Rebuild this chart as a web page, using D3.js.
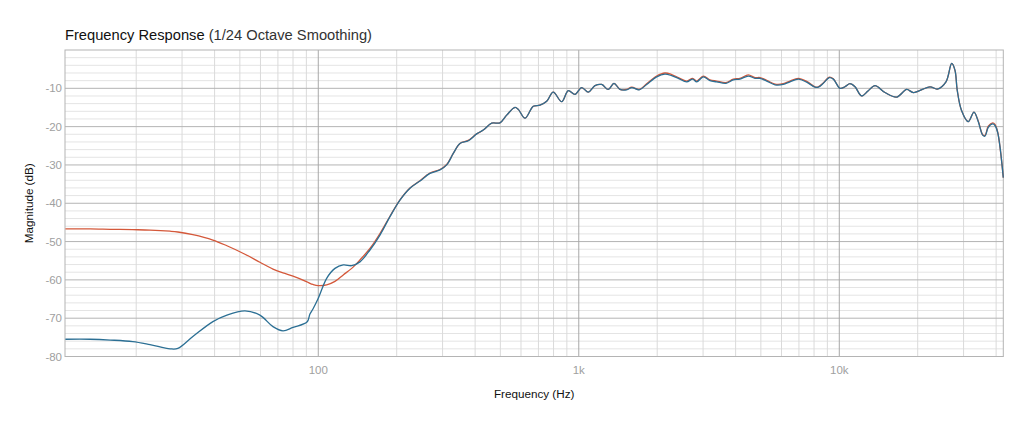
<!DOCTYPE html>
<html>
<head>
<meta charset="utf-8">
<script src="https://cdn.jsdelivr.net/npm/d3@7"></script>
<style>
  body { margin: 0; background: #fff; }
  svg { font-family: "Liberation Sans", Arial, Helvetica, sans-serif; }
</style>
</head>
<body>
<script>
// frequencies (Hz)
const freqs = [10.7, 13.3, 15.9, 19.4, 22.6, 27.0, 28.9, 33.0, 39.4, 44.6, 52.3, 59.7, 67.0, 73.2, 80.0,
  90.5, 92.9, 95.4, 100, 107.7, 115.9, 124.7, 134.4, 144.5, 157.9, 172.5, 188.5, 205.9, 224.9, 245.7,
  268.4, 293.3, 311.2, 329.8, 349.9, 376.6, 405.5, 429.9, 463.1, 498.3, 528.8, 569.0, 586, 621.6,
  668.9, 709.6, 753.1, 798.1, 860, 911.5, 967, 1026, 1088, 1154, 1224, 1298, 1365, 1440, 1527, 1597,
  1707, 1822, 1991, 2142, 2273, 2410, 2596, 2736, 2836, 3006, 3189, 3383, 3673, 3919, 4157, 4474,
  4747, 4961, 5264, 5666, 6096, 6467, 6961, 7498, 8067, 8306, 8681, 9153, 9484, 10063, 10517, 10993,
  11490, 12190, 12890, 13710, 14980, 16610, 18150, 19240, 22300, 23780, 25680, 27010, 27810, 28350,
  29440, 31280, 32890, 34170, 35520, 36250, 37330, 38810, 39600, 40550, 42620];

// magnitude (dB), blue trace
const seriesBlue = [-75.5, -75.5, -75.7, -76.1, -76.9, -78.0, -77.9, -74.8, -70.9, -69.2, -68.1, -69.2, -72.2, -73.3, -72.4,
  -71.0, -68.9, -67.6, -64.8, -59.6, -57.0, -56.1, -56.3, -55.3, -52.2, -48.3, -43.5, -39.2, -36.1, -34.2,
  -32.2, -31.3, -30.0, -27.0, -24.4, -23.7, -21.9, -20.9, -19.1, -19.0, -17.0, -15.0, -15.5, -17.8,
  -14.7, -14.4, -13.4, -11.0, -13.5, -10.6, -11.6, -9.8, -11.0, -9.3, -9.0, -10.3, -8.7, -10.3, -10.4, -9.8,
  -10.4, -9.0, -7.0, -6.3, -6.7, -7.4, -8.3, -7.6, -8.3, -7.0, -8.0, -8.3, -8.7, -7.8, -7.6, -6.8,
  -7.4, -7.4, -8.1, -9.1, -9.0, -8.3, -7.6, -8.4, -9.7, -9.7, -8.7, -7.2, -7.6, -10.0, -9.6, -8.8,
  -9.6, -12.0, -10.7, -9.3, -11.1, -12.3, -10.3, -11.1, -9.6, -10.2, -8.3, -3.5, -5.3, -10.4,
  -15.7, -18.7, -16.2, -18.7, -22.2, -22.5, -20.2, -19.3, -19.7, -21.5, -33.3];

// magnitude (dB), orange trace
const seriesOrange = [-46.7, -46.7, -46.8, -46.9, -47.0, -47.3, -47.5, -48.2, -49.6, -51.1, -53.3, -55.4, -57.2, -58.2, -59.0,
  -60.5, -60.9, -61.2, -61.5, -61.3, -60.4, -58.7, -57.0, -54.8, -51.8, -47.9, -43.4, -39.1, -36.0, -34.1,
  -32.1, -31.2, -29.9, -27.0, -24.4, -23.6, -21.9, -20.9, -19.1, -19.0, -17.0, -15.0, -15.5, -17.8,
  -14.7, -14.4, -13.4, -11.0, -13.5, -10.6, -11.6, -9.8, -11.0, -9.3, -9.0, -10.3, -8.7, -10.3, -10.3, -9.7,
  -10.3, -8.8, -6.8, -6.0, -6.4, -7.2, -8.1, -7.4, -8.1, -6.8, -7.8, -8.1, -8.5, -7.6, -7.4, -6.5,
  -7.2, -7.2, -7.9, -8.9, -8.8, -8.1, -7.4, -8.2, -9.6, -9.6, -8.6, -7.1, -7.5, -10.0, -9.6, -8.8,
  -9.6, -12.0, -10.7, -9.3, -11.1, -12.3, -10.3, -11.1, -9.6, -10.2, -8.3, -3.5, -5.3, -10.4,
  -15.7, -18.7, -16.2, -18.6, -22.1, -22.3, -19.9, -19.0, -19.4, -21.4, -33.3];

const xTicks = [100, 1000, 10000];
const xTickLabels = ["100", "1k", "10k"];
const yTicks = [-80, -70, -60, -50, -40, -30, -20, -10];

const width = 1024;
const height = 427;
const margin = { top: 50, right: 20.7, bottom: 70.5, left: 65 };

const svg = d3.select('body').append('svg')
  .attr('width', width)
  .attr('height', height)
  .attr('viewBox', `0 0 ${width} ${height}`);

const x = d3.scaleLog()
  .domain([10.66, 42620])
  .range([margin.left, width - margin.right]);

const y = d3.scaleLinear()
  .domain([-80, 0])
  .range([height - margin.bottom, margin.top]);

const [x0, x1] = x.range();
const [y1, y0] = y.range();

// minor log grid: 1..9 x each decade
let minorX = [];
for (let k = 1; k <= 4; k++) {
  for (let m = 1; m <= 9; m++) {
    const f = m * Math.pow(10, k);
    if (f > x.domain()[0] && f < x.domain()[1] && xTicks.indexOf(f) < 0) minorX.push(f);
  }
}
const minorY = d3.range(-78, 0, 2).filter((d) => d % 10 !== 0);

const grid = svg.append('g').attr('class', 'grid');

grid.selectAll('line.hminor')
  .data(minorY)
  .enter()
  .append('line')
  .attr('x1', x0).attr('x2', x1)
  .attr('y1', (d) => y(d)).attr('y2', (d) => y(d))
  .style('stroke', '#e4e4e4')
  .style('stroke-width', 1);

grid.selectAll('line.vminor')
  .data(minorX)
  .enter()
  .append('line')
  .attr('x1', (d) => x(d)).attr('x2', (d) => x(d))
  .attr('y1', y0).attr('y2', y1)
  .style('stroke', '#dadada')
  .style('stroke-width', 1);

grid.selectAll('line.hmajor')
  .data(yTicks)
  .enter()
  .append('line')
  .attr('x1', x0).attr('x2', x1)
  .attr('y1', (d) => y(d)).attr('y2', (d) => y(d))
  .style('stroke', '#b4b4b4')
  .style('stroke-width', 1);

grid.selectAll('line.vmajor')
  .data(xTicks)
  .enter()
  .append('line')
  .attr('x1', (d) => x(d)).attr('x2', (d) => x(d))
  .attr('y1', y0).attr('y2', y1)
  .style('stroke', '#a8a8a8')
  .style('stroke-width', 1);

svg.append('rect')
  .attr('x', x0).attr('y', y0)
  .attr('width', x1 - x0).attr('height', y1 - y0)
  .style('fill', 'none')
  .style('stroke', '#b4b4b4')
  .style('stroke-width', 1);

// axes text
svg.append('g')
  .selectAll('text')
  .data(yTicks)
  .enter()
  .append('text')
  .attr('x', x0 - 3)
  .attr('y', (d) => y(d))
  .attr('dy', '0.35em')
  .attr('text-anchor', 'end')
  .style('font-size', '11.5px')
  .style('fill', '#a0a0a0')
  .text((d) => d);

svg.append('g')
  .selectAll('text')
  .data(xTicks)
  .enter()
  .append('text')
  .attr('x', (d) => x(d))
  .attr('y', 374)
  .attr('text-anchor', 'middle')
  .style('font-size', '11.5px')
  .style('fill', '#a0a0a0')
  .text((d, i) => xTickLabels[i]);

svg.append('text')
  .attr('x', (x0 + x1) / 2)
  .attr('y', 398)
  .attr('text-anchor', 'middle')
  .style('font-size', '11.7px')
  .style('fill', '#111')
  .text('Frequency (Hz)');

svg.append('text')
  .attr('transform', `translate(33,${(y0 + y1) / 2}) rotate(-90)`)
  .attr('text-anchor', 'middle')
  .style('font-size', '11.7px')
  .style('fill', '#111')
  .text('Magnitude (dB)');

const title = svg.append('text')
  .attr('x', x0)
  .attr('y', 39.5)
  .style('font-size', '14.7px')
  .style('fill', '#111');
title.append('tspan').style('font-weight', 500).text('Frequency Response ');
title.append('tspan').style('fill', '#333').text('(1/24 Octave Smoothing)');

// traces
const line = d3.line()
  .x((d) => x(d[0]))
  .y((d) => y(d[1]))
  .curve(d3.curveCatmullRom.alpha(0.5));

svg.append('path')
  .datum(freqs.map((f, i) => [f, seriesOrange[i]]))
  .attr('d', line)
  .style('fill', 'none')
  .style('stroke', '#d4583a')
  .style('stroke-width', 1.3);

svg.append('path')
  .datum(freqs.map((f, i) => [f, seriesBlue[i]]))
  .attr('d', line)
  .style('fill', 'none')
  .style('stroke', '#2b6f94')
  .style('stroke-width', 1.3);
</script>
</body>
</html>
